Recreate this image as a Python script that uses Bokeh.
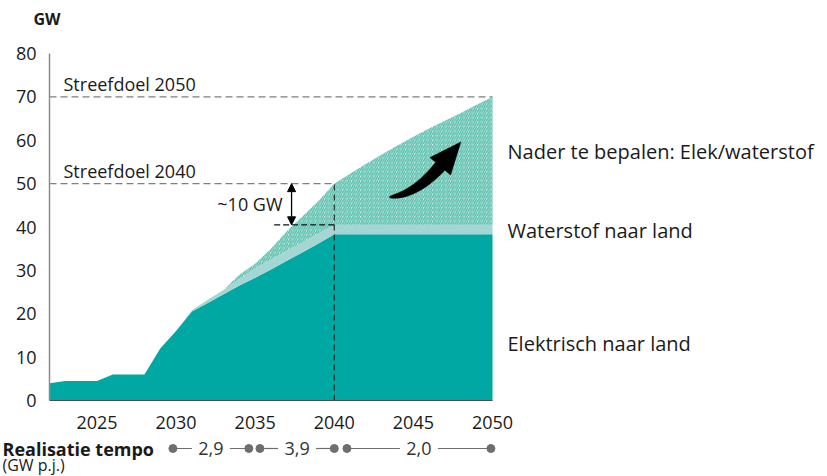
import math
from bokeh.plotting import figure
from bokeh.models import Arrow, NormalHead, Range1d, FixedTicker
from bokeh.embed import file_html
from bokeh.resources import INLINE
from bokeh.core.properties import value

# ---------------- data ----------------
years = [2022, 2023, 2024, 2025, 2026, 2027, 2028, 2029, 2030, 2031,
         2032, 2033, 2034, 2035, 2036, 2037, 2038, 2039, 2040, 2041,
         2042, 2043, 2044, 2045, 2046, 2047, 2048, 2049, 2050]
elektrisch = [4.0, 4.5, 4.5, 4.5, 6.0, 6.0, 6.0, 12.0, 16.0, 20.5,
              22.5, 24.5, 26.5, 28.3, 30.2, 32.2, 34.2, 36.2, 38.3, 38.3,
              38.3, 38.3, 38.3, 38.3, 38.3, 38.3, 38.3, 38.3, 38.3]
waterstof = [0.0, 0.0, 0.0, 0.0, 0.0, 0.0, 0.0, 0.0, 0.0, 0.3,
             0.7, 1.0, 1.5, 2.2, 2.3, 2.3, 2.3, 2.3, 2.2, 2.2,
             2.2, 2.2, 2.2, 2.2, 2.2, 2.2, 2.2, 2.2, 2.2]
nader = [0.0, 0.0, 0.0, 0.0, 0.0, 0.0, 0.0, 0.0, 0.0, 0.0,
         0.0, 0.0, 1.0, 1.0, 2.5, 4.5, 6.0, 7.5, 9.5, 11.8,
         14.0, 16.2, 18.3, 20.3, 22.2, 24.0, 25.8, 27.7, 29.5]

series_labels = ["Nader te bepalen: Elek/waterstof", "Waterstof naar land", "Elektrisch naar land"]
series_label_y = [57.3, 39.2, 13.1]

streefdoel_labels = ["Streefdoel 2040", "Streefdoel 2050"]
streefdoel_jaar = [2040, 2050]
streefdoel_gw = [50, 70]

gap_top = 50.0
gap_bottom = 40.5
gap_x = 2037.3
gap_label = "~10 GW"

x_ticks = [2025, 2030, 2035, 2040, 2045, 2050]
y_ticks = [0, 10, 20, 30, 40, 50, 60, 70, 80]

tempo_title = ["Realisatie tempo", "(GW p.j.)"]
tempo_start = [2029.8, 2035.3, 2040.8]
tempo_end = [2034.6, 2040.0, 2049.9]
tempo_labels = ["2,9", "3,9", "2,0"]

# curved arrow anchors (data coords): tail, control, head base, tip
arrow_tail = (2043.5, 46.9)
arrow_ctrl = (2045.1, 47.35)
arrow_base = (2046.7, 54.0)
arrow_tip = (2048.0, 59.6)

# ---------------- style / geometry ----------------
FONT = "Open Sans"
TEAL = "#00a8a3"
H2 = "#a6d6d3"
HATCH_BG = "#cdece6"
HATCH_LINE = "#55bdaa"
TXT = "#1a1a1a"
ROWC = "#6e6e6e"

X0, X1 = 2022, 2050
Y0, Y1 = 0, 80
W, H = 827, 476
PL, PT = 49, 53       # pixel position of the plot area's left / top edge
FW, FH = 443, 347     # pixel size of the 2022-2050 x 0-80 area
sx = FW / (X1 - X0)
sy = FH / (Y1 - Y0)

XR0 = X0 - PL / sx
XR1 = X0 + (W - PL) / sx
YR1 = Y1 + PT / sy
YR0 = Y0 - (H - PT - FH) / sy

p = figure(width=W, height=H, x_range=Range1d(XR0, XR1), y_range=Range1d(YR0, YR1),
           output_backend="svg", toolbar_location=None,
           min_border_left=0, min_border_right=0, min_border_top=0, min_border_bottom=0)
p.outline_line_color = None
p.xgrid.visible = False
p.ygrid.visible = False

# stacked areas
base1 = [0.0] * len(years)
top1 = elektrisch
top2 = [a + b for a, b in zip(elektrisch, waterstof)]
top3 = [a + b + c for a, b, c in zip(elektrisch, waterstof, nader)]

p.varea(x=years, y1=base1, y2=top1, fill_color=TEAL)
p.varea(x=years, y1=top1, y2=top2, fill_color=H2)
p.varea(x=years, y1=top2, y2=top3, fill_color=HATCH_BG,
        hatch_pattern="/", hatch_color=HATCH_LINE, hatch_weight=1.4, hatch_scale=4.5, hatch_alpha=1.0)

# target lines
p.segment(x0=[X0, X0], y0=streefdoel_gw, x1=streefdoel_jaar, y1=streefdoel_gw,
          line_color="#7f7f7f", line_width=1.3, line_dash="7 4")
p.text(x=[X0, X0], y=streefdoel_gw, text=streefdoel_labels, x_offset=14, y_offset=-13,
       text_font=value(FONT), text_font_size="18px", text_color=TXT, text_baseline="middle")

# vertical dashed at 2040
p.segment(x0=[streefdoel_jaar[0]], y0=[0], x1=[streefdoel_jaar[0]], y1=[streefdoel_gw[0]],
          line_color="#2b2b2b", line_width=1.2, line_dash="6 4")
# short dashed at gap bottom
p.segment(x0=[gap_x - 1.1], y0=[gap_bottom], x1=[streefdoel_jaar[0]], y1=[gap_bottom],
          line_color="#111111", line_width=1.3, line_dash="6 3")
p.add_layout(Arrow(x_start=gap_x, y_start=gap_bottom, x_end=gap_x, y_end=gap_top,
                   line_width=1.3, line_color="black",
                   start=NormalHead(size=8, fill_color="black", line_color="black"),
                   end=NormalHead(size=8, fill_color="black", line_color="black")))
p.text(x=[gap_x], y=[(gap_top + gap_bottom) / 2], text=[gap_label], x_offset=-9,
       text_font=value(FONT), text_font_size="18px", text_color=TXT,
       text_align="right", text_baseline="middle")

# curved arrow built in pixel space
def to_px(pt):
    return ((pt[0] - X0) * sx, (pt[1] - Y0) * sy)

def to_data(px, py):
    return (X0 + px / sx, Y0 + py / sy)

P0, P1, E, T = to_px(arrow_tail), to_px(arrow_ctrl), to_px(arrow_base), to_px(arrow_tip)
left, right = [], []
N = 24
for i in range(N + 1):
    t = i / N
    bx = (1 - t) ** 2 * P0[0] + 2 * (1 - t) * t * P1[0] + t ** 2 * E[0]
    by = (1 - t) ** 2 * P0[1] + 2 * (1 - t) * t * P1[1] + t ** 2 * E[1]
    tx = 2 * (1 - t) * (P1[0] - P0[0]) + 2 * t * (E[0] - P1[0])
    ty = 2 * (1 - t) * (P1[1] - P0[1]) + 2 * t * (E[1] - P1[1])
    L = math.hypot(tx, ty)
    nx, ny = -ty / L, tx / L
    w = 0.6 + 5.5 * t ** 0.6
    left.append((bx + nx * w, by + ny * w))
    right.append((bx - nx * w, by - ny * w))
dx, dy = T[0] - E[0], T[1] - E[1]
L = math.hypot(dx, dy)
hx, hy = -dy / L, dx / L
HW = 13.5
poly = left + [(E[0] + hx * HW, E[1] + hy * HW), T, (E[0] - hx * HW, E[1] - hy * HW)] + right[::-1]
pd = [to_data(a, b) for a, b in poly]
p.patch([q[0] for q in pd], [q[1] for q in pd], fill_color="black", line_color="black", line_width=0.5)

# right-side labels
p.text(x=[X1] * 3, y=series_label_y, text=series_labels, x_offset=15,
       text_font=value(FONT), text_font_size="20px", text_color=TXT, text_baseline="middle")

# unit label above the y axis
p.text(x=[X0], y=[Y1], text=["GW"], x_offset=-16, y_offset=-35,
       text_font=value(FONT), text_font_size="16px", text_font_style="bold",
       text_color=TXT, text_baseline="middle")

# axes (fixed inside the canvas, limited to the data span)
for ax in (p.xaxis[0], p.yaxis[0]):
    ax.major_tick_line_color = None
    ax.minor_tick_line_color = None
    ax.major_tick_out = 0
    ax.major_tick_in = 0
    ax.minor_tick_out = 0
    ax.minor_tick_in = 0
    ax.major_label_text_font = FONT
    ax.major_label_text_font_size = "18px"
    ax.major_label_text_color = TXT
p.xaxis.ticker = FixedTicker(ticks=x_ticks)
p.yaxis.ticker = FixedTicker(ticks=y_ticks)
p.xaxis.fixed_location = Y0
p.yaxis.fixed_location = X0
p.xaxis.bounds = (X0, X1)
p.yaxis.bounds = (Y0, Y1)
p.yaxis.axis_line_color = "#8c8c8c"
p.yaxis.axis_line_width = 1.5
p.xaxis.axis_line_color = "#4d4d4d"
p.xaxis.axis_line_width = 1.2
p.yaxis.major_label_standoff = 13
p.xaxis.major_label_standoff = 15

# ---------------- tempo row ----------------
ROW_Y = Y0 - 48 / sy
ROW2_Y = Y0 - 64 / sy
GAP = 1.2
mids = [(a + b) / 2 for a, b in zip(tempo_start, tempo_end)]
seg_x0 = []
seg_x1 = []
for a, b, m in zip(tempo_start, tempo_end, mids):
    seg_x0 += [a, m + GAP]
    seg_x1 += [m - GAP, b]
p.segment(x0=seg_x0, y0=[ROW_Y] * len(seg_x0), x1=seg_x1, y1=[ROW_Y] * len(seg_x1),
          line_color=ROWC, line_width=1.2)
p.scatter(x=tempo_start + tempo_end, y=[ROW_Y] * 6, size=8, fill_color=ROWC, line_color=ROWC)
p.text(x=mids, y=[ROW_Y] * 3, text=tempo_labels, text_font=value(FONT), text_font_size="18px",
       text_color="#333333", text_align="center", text_baseline="middle")
p.text(x=[XR0, XR0], y=[ROW_Y, ROW2_Y], text=tempo_title,
       x_offset=2, text_font=value(FONT), text_font_size=["18px", "16px"], text_color=TXT,
       text_font_style=["bold", "normal"], text_baseline="middle")

open("out.html", "w").write(file_html(p, INLINE))
